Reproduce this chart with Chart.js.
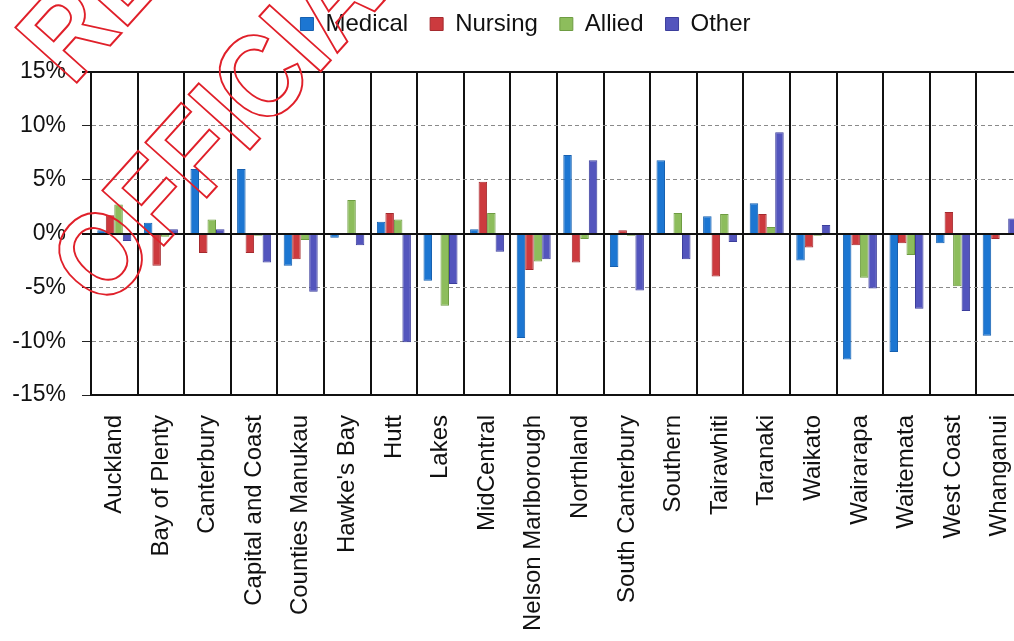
<!DOCTYPE html>
<html>
<head>
<meta charset="utf-8">
<script src="https://cdn.jsdelivr.net/npm/chart.js@4"></script>
<style>
  body{margin:0;background:#fff;overflow:hidden;}
  #wrap{position:relative;width:1030px;height:641px;}
  #chart{position:absolute;left:0;top:0;}
  #stamp{position:absolute;left:0;top:0;pointer-events:none;}
</style>
</head>
<body>
<div id="wrap">
  <canvas id="chart" width="1030" height="641"></canvas>
  <svg id="stamp" width="1014" height="641">
    <g fill="none" stroke="#e0202a" stroke-width="2" font-family="Liberation Sans, Arial" font-weight="bold" font-size="120">
      <text transform="translate(104 312) rotate(-48) scale(0.88 1)">OFFICIAL</text>
      <text transform="translate(72 88) rotate(-48) scale(0.88 1)">RESTRICTED</text>
    </g>
  </svg>
</div>
<script>
// ---------------- DATA ----------------
const dhbs = ["Auckland","Bay of Plenty","Canterbury","Capital and Coast","Counties Manukau",
  "Hawke's Bay","Hutt","Lakes","MidCentral","Nelson Marlborough","Northland","South Canterbury",
  "Southern","Tairawhiti","Taranaki","Waikato","Wairarapa","Waitemata","West Coast","Whanganui"];

const medical = [0.3, 1.0, 6.0, 6.0, -3.0, -0.4, 1.1, -4.4, 0.4, -9.7, 7.3, -3.1, 6.8, 1.6, 2.8, -2.5, -11.7, -11.0, -0.9, -9.5];
const nursing = [1.7, -3.0, -1.8, -1.8, -2.4, 0, 1.9, 0, 4.8, -3.4, -2.7, 0.3, 0, -4.0, 1.8, -1.3, -1.1, -0.9, 2.0, -0.5];
const allied  = [2.7, -0.3, 1.3, -0.2, -0.6, 3.1, 1.3, -6.7, 1.9, -2.6, -0.5, -0.2, 1.9, 1.8, 0.6, -0.2, -4.1, -2.0, -4.9, 0];
const other   = [-0.7, 0.4, 0.4, -2.7, -5.4, -1.1, -10.1, -4.7, -1.7, -2.4, 6.8, -5.3, -2.4, -0.8, 9.4, 0.8, -5.1, -7.0, -7.2, 1.4];

const yTicks = [-15, -10, -5, 0, 5, 10, 15];

const FONT = "'Liberation Sans', Arial, sans-serif";

// top border + solid zero line
const axisLines = {
  id: "axisLines",
  afterDatasetsDraw(c){
    const y = c.scales.y, a = c.chartArea, ctx = c.ctx;
    ctx.save();
    ctx.strokeStyle = "#111";
    ctx.lineWidth = 2;
    [15, 0].forEach(v => {
      const py = Math.round(y.getPixelForValue(v));
      ctx.beginPath();
      ctx.moveTo(a.left - 9, py);
      ctx.lineTo(a.right, py);
      ctx.stroke();
    });
    ctx.restore();
  }
};

// legend block: fixed height, nudged to where the original sits
const legendPlace = {
  id: "legendPlace",
  beforeInit(c){
    const fit = c.legend.fit;
    c.legend.fit = function(){ fit.call(this); this.height = 72; };
  },
  afterLayout(c){
    const lg = c.legend;
    lg.left += 8; lg.right += 8;
    lg.top -= 10; lg.bottom -= 10;
  }
};

function ds(label, data, color, border){
  return {label, data, backgroundColor: color, borderColor: border, borderWidth: 1,
    categoryPercentage: 0.73, barPercentage: 1.0};
}

new Chart(document.getElementById("chart"), {
  type: "bar",
  data: {
    labels: dhbs,
    datasets: [
      ds("Medical", medical, "#1c76d2", "#1660b0"),
      ds("Nursing", nursing, "#cc3a3e", "#a52a2e"),
      ds("Allied",  allied,  "#8dbd5c", "#6e9c42"),
      ds("Other",   other,   "#5355bd", "#3c3e9c")
    ]
  },
  options: {
    responsive: false,
    animation: false,
    layout: { padding: { left: 12, right: 7, top: 0, bottom: 0 } },
    plugins: {
      legend: {
        position: "top",
        labels: { font: { family: FONT, size: 24 }, color: "#111", boxWidth: 13, boxHeight: 13, padding: 22 }
      },
      tooltip: { enabled: false }
    },
    scales: {
      x: {
        afterFit: s => { s.height = 246; s.paddingLeft = 0; s.paddingRight = 0; },
        grid: { offset: true, color: "#111", lineWidth: 2, drawTicks: false },
        border: { display: true, color: "#111", width: 2 },
        ticks: { font: { family: FONT, size: 24 }, color: "#111", maxRotation: 90, minRotation: 90, padding: 20, autoSkip: false }
      },
      y: {
        min: -15, max: 15,
        afterBuildTicks: s => { s.ticks = yTicks.map(v => ({ value: v })); },
        afterFit: s => { s.width = 79; },
        grid: { color: "#8a8a8a", lineWidth: 1, tickLength: 9, tickColor: "#222" },
        border: { display: true, color: "#111", width: 2, dash: [4, 3] },
        ticks: { font: { family: FONT, size: 23 }, color: "#111", padding: 16, callback: v => v + "%" }
      }
    }
  },
  plugins: [axisLines, legendPlace]
});
</script>
</body>
</html>
